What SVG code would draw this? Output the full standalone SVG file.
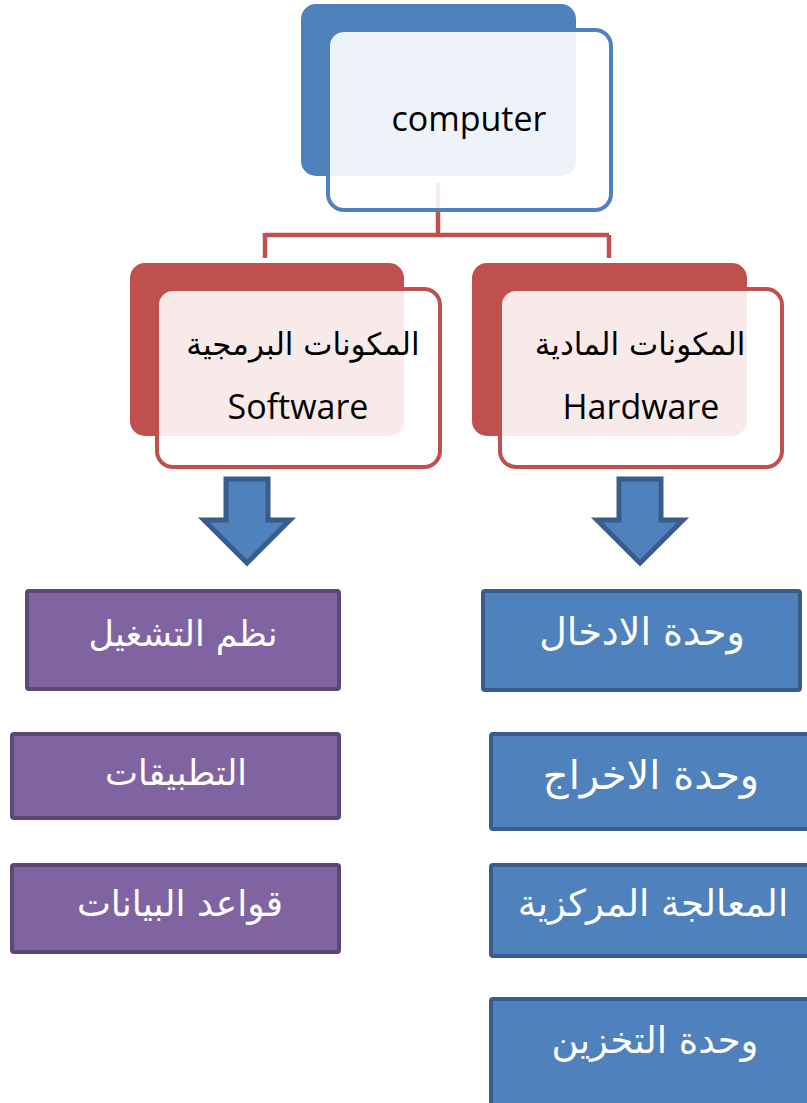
<svg xmlns="http://www.w3.org/2000/svg" width="807" height="1103" viewBox="0 0 807 1103">
<style>
.bk-blue{fill:#4F81BD}
.fr-blue{fill:#FFFFFF;fill-opacity:0.9;stroke:#4F81BD;stroke-width:4}
.bk-red{fill:#C0504D}
.fr-red{fill:#FFFFFF;fill-opacity:0.88;stroke:#C0504D;stroke-width:4}
.conn{fill:none;stroke:#C0504D;stroke-width:4.5}
.arrow{fill:#4F81BD;stroke:#385D8A;stroke-width:5;stroke-linejoin:miter}
.pbox{fill:#8064A2;stroke:#5C4776;stroke-width:4}
.bbox{fill:#4F81BD;stroke:#385D8A;stroke-width:4}
.lat{font-family:"Open Sans","Noto Sans",sans-serif;font-size:34px;fill:#000;text-anchor:middle}
.arb{font-family:"DejaVu Sans",sans-serif;font-size:31px;fill:#000;text-anchor:middle}
.arw{font-family:"DejaVu Sans",sans-serif;font-size:37px;fill:#FFFFFF;text-anchor:middle}
</style>
<g id="computer-back"><rect class="bk-blue" x="301" y="4" width="275" height="172" rx="15"/></g>
<g id="software-back"><rect class="bk-red" x="130" y="263" width="274" height="173" rx="15"/></g>
<g id="hardware-back"><rect class="bk-red" x="472" y="263" width="275" height="173" rx="15"/></g>
<g id="connectors">
<path class="conn" d="M438 183 V235 M265 235 H609 M265 233 V258 M609 235 V258"/>
</g>
<g id="computer">
<rect class="fr-blue" x="328" y="30" width="283" height="180" rx="16"/>
<text class="lat" x="469" y="131">computer</text>
</g>
<g id="software">
<rect class="fr-red" x="157" y="289" width="283" height="178" rx="16"/>
<text class="arb" x="303" y="355" direction="rtl">المكونات البرمجية</text>
<text class="lat" x="298" y="419">Software</text>
</g>
<g id="hardware">
<rect class="fr-red" x="500" y="289" width="282" height="178" rx="16"/>
<text class="arb" x="640" y="355" direction="rtl">المكونات المادية</text>
<text class="lat" x="641" y="419">Hardware</text>
</g>
<g id="arrows">
<polygon class="arrow" points="226,479 268,479 268,520 290,520 247,563 204,520 226,520"/>
<polygon class="arrow" points="619,479 661,479 661,520 683,520 640,563 597,520 619,520"/>
</g>
<g id="os">
<rect class="pbox" x="27" y="591" width="312" height="98" rx="2"/>
<text class="arw" x="183" y="646" direction="rtl" style="font-size:35px">نظم التشغيل</text>
</g>
<g id="apps">
<rect class="pbox" x="12" y="734" width="327" height="84" rx="2"/>
<text class="arw" x="176" y="785" direction="rtl" style="font-size:35px">التطبيقات</text>
</g>
<g id="db">
<rect class="pbox" x="12" y="865" width="327" height="87" rx="2"/>
<text class="arw" x="180" y="916" direction="rtl" style="font-size:36px">قواعد البيانات</text>
</g>
<g id="input">
<rect class="bbox" x="483" y="591" width="317" height="99" rx="2"/>
<text class="arw" x="642" y="645" direction="rtl" style="font-size:38px">وحدة الادخال</text>
</g>
<g id="output">
<rect class="bbox" x="491" y="734" width="330" height="95" rx="2"/>
<text class="arw" x="651" y="789" direction="rtl" style="font-size:40px">وحدة الاخراج</text>
</g>
<g id="cpu">
<rect class="bbox" x="491" y="865" width="330" height="91" rx="2"/>
<text class="arw" x="653" y="916" direction="rtl">المعالجة المركزية</text>
</g>
<g id="storage">
<rect class="bbox" x="491" y="999" width="330" height="120" rx="2"/>
<text class="arw" x="655" y="1053" direction="rtl">وحدة التخزين</text>
</g>
</svg>
